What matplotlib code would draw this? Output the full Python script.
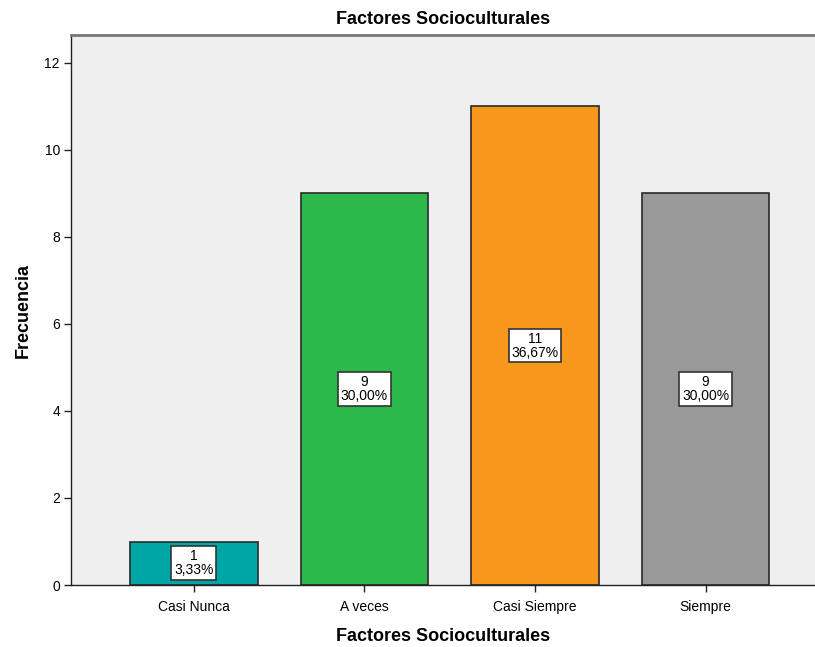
import matplotlib
matplotlib.use("Agg")
import matplotlib.pyplot as plt

plt.rcParams["font.family"] = ["Liberation Sans", "DejaVu Sans"]

categories = ["Casi Nunca", "A veces", "Casi Siempre", "Siempre"]
counts = [1, 9, 11, 9]
percents = ["3,33%", "30,00%", "36,67%", "30,00%"]
colors = ["#00A5A5", "#2DB84B", "#F7981D", "#999999"]
yticks = [0, 2, 4, 6, 8, 10, 12]

fig = plt.figure(figsize=(8.15, 6.47), dpi=100)
ax = fig.add_axes([0.0871, 0.0958, 0.9129, 0.8501])
ax.set_facecolor("#EFEFEF")

x = list(range(len(categories)))
ax.bar(x, counts, width=0.75, color=colors, edgecolor="#2a2a2a", linewidth=1.2, zorder=2)

for xi, c, p in zip(x, counts, percents):
    ax.text(xi, c / 2, f"{c}\n{p}", ha="center", va="center", fontsize=10,
            linespacing=1.0, color="black", zorder=3,
            bbox=dict(boxstyle="square,pad=0.2", facecolor="white", edgecolor="#333333", linewidth=1.2))

ax.set_xlim(-0.721, 3.642)
ax.set_ylim(0, 12.64)
ax.set_yticks(yticks)
ax.set_xticks(x)
ax.set_xticklabels(categories, fontsize=10)
ax.tick_params(axis="y", labelsize=10, length=5, width=1, color="#222222", pad=3)
ax.tick_params(axis="x", length=5, width=1, color="#222222", pad=6)

for side in ["left", "bottom"]:
    ax.spines[side].set_color("#222222")
    ax.spines[side].set_linewidth(1.0)
ax.spines["top"].set_color("#777777")
ax.spines["top"].set_linewidth(2.0)
ax.spines["right"].set_visible(False)

ax.set_title("Factores Socioculturales", fontsize=13, fontweight="bold", pad=8)
ax.set_ylabel("Frecuencia", fontsize=13, fontweight="bold", labelpad=9)
ax.set_xlabel("Factores Socioculturales", fontsize=13, fontweight="bold", labelpad=10)

fig.savefig("out.png", dpi=100)
